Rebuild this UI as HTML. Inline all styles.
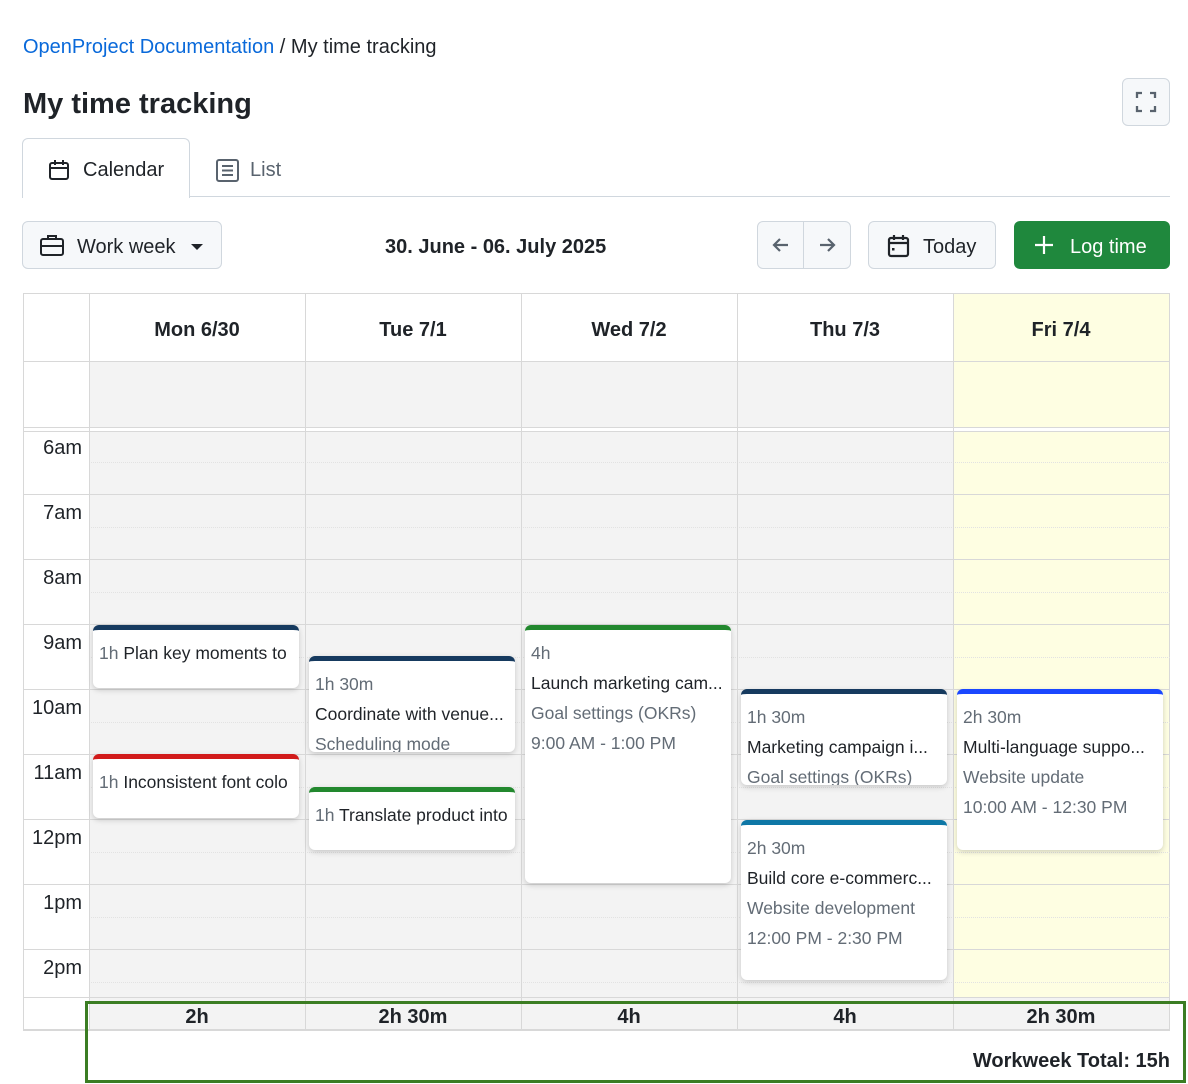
<!DOCTYPE html>
<html><head><meta charset="utf-8"><style>
*{box-sizing:border-box;margin:0;padding:0}
body{width:1188px;height:1084px;background:#fff;font-family:"Liberation Sans",sans-serif;color:#1f2328;position:relative;overflow:hidden}
.a{position:absolute}
.btn{position:absolute;border:1px solid #d0d7de;background:#f6f8fa;border-radius:6px}
.vl{position:absolute;width:1px;background:#d8d8d8}
.hl{position:absolute;height:1px;background:#d8d8d8;left:23px;width:1147px}
.dl{position:absolute;height:0;border-top:1px dotted #e2e2e2;left:89px;width:1081px}
.tl{position:absolute;left:23px;width:59px;text-align:right;font-size:20px}
.dh{position:absolute;top:319px;width:216px;text-align:center;font-weight:bold;font-size:20px}
.ev{position:absolute;background:#fff;border-radius:6px;box-shadow:0 2px 6px rgba(0,0,0,.18);overflow:hidden;border-top:5px solid;font-size:17.5px;padding:12px 6px 0 6px;white-space:nowrap}
.ev div{height:30px;line-height:22px}
.g{color:#636c76}
.ft{position:absolute;top:1006px;width:216px;text-align:center;font-weight:bold;font-size:20px}
</style></head><body>
<div class="a" style="left:23px;top:36px;font-size:20px"><span style="color:#0969da">OpenProject Documentation</span> / My time tracking</div>
<div class="a" style="left:23px;top:88px;font-size:29px;font-weight:bold">My time tracking</div>
<div class="btn" style="left:1122px;top:78px;width:48px;height:48px">
<svg width="46" height="46" viewBox="0 0 46 46"><path d="M14 19v-5h5M27 14h5v5M32 27v5h-5M19 32h-5v-5" stroke="#59636e" stroke-width="2.3" fill="none"/></svg></div>
<div class="a" style="left:22px;top:138px;width:168px;height:60px;border:1px solid #d0d7de;border-bottom:none;border-radius:6px 6px 0 0;background:#fff;z-index:2"></div>
<div class="a" style="left:23px;top:196px;width:1147px;height:1px;background:#d0d7de"></div>
<svg class="a" style="left:47px;top:158px;z-index:3" width="24" height="24" viewBox="0 0 24 24"><rect x="3" y="5" width="18" height="16" rx="2" stroke="#1f2328" stroke-width="2" fill="none"/><path d="M3 10h18M8 2v5M16 2v5" stroke="#1f2328" stroke-width="2"/></svg>
<div class="a" style="left:83px;top:159px;font-size:20px;z-index:3">Calendar</div>
<svg class="a" style="left:215px;top:158px" width="25" height="25" viewBox="0 0 25 25"><rect x="2" y="2" width="21" height="21" rx="2" stroke="#59636e" stroke-width="2" fill="none"/><path d="M7 8h11M7 12.5h11M7 17h11" stroke="#59636e" stroke-width="2"/></svg>
<div class="a" style="left:250px;top:159px;font-size:20px;color:#59636e">List</div>
<div class="btn" style="left:22px;top:221px;width:200px;height:48px"></div>
<svg class="a" style="left:39px;top:233px" width="26" height="24" viewBox="0 0 26 24"><rect x="2" y="6" width="22" height="16" rx="2" stroke="#1f2328" stroke-width="2" fill="none"/><path d="M9 6V3h8v3M2 13h22" stroke="#1f2328" stroke-width="2" fill="none"/></svg>
<div class="a" style="left:77px;top:236px;font-size:20px">Work week</div>
<div class="a" style="left:191px;top:244px;border-left:6px solid transparent;border-right:6px solid transparent;border-top:6px solid #1f2328"></div>
<div class="a" style="left:385px;top:236px;font-size:20px;font-weight:bold">30. June - 06. July 2025</div>
<div class="btn" style="left:757px;top:221px;width:94px;height:48px"></div>
<div class="a" style="left:803px;top:222px;width:1px;height:46px;background:#d0d7de"></div>
<svg class="a" style="left:770px;top:234px" width="22" height="22" viewBox="0 0 22 22"><path d="M18 11H4M10 5l-6 6 6 6" stroke="#59636e" stroke-width="2.2" fill="none"/></svg>
<svg class="a" style="left:816px;top:234px" width="22" height="22" viewBox="0 0 22 22"><path d="M4 11h14M12 5l6 6-6 6" stroke="#59636e" stroke-width="2.2" fill="none"/></svg>
<div class="btn" style="left:868px;top:221px;width:128px;height:48px"></div>
<svg class="a" style="left:886px;top:233px" width="26" height="26" viewBox="0 0 26 26"><rect x="3" y="5" width="19" height="18" rx="2" stroke="#1f2328" stroke-width="2.2" fill="none"/><path d="M3 10h19M8 2v5M17 2v5" stroke="#1f2328" stroke-width="2.2"/><rect x="6" y="15" width="2.5" height="2.5" fill="#1f2328"/></svg>
<div class="a" style="left:923px;top:236px;font-size:20px">Today</div>
<div class="a" style="left:1014px;top:221px;width:156px;height:48px;background:#1f883d;border-radius:6px"></div>
<svg class="a" style="left:1033px;top:234px" width="22" height="22" viewBox="0 0 22 22"><path d="M11 2v18M2 11h18" stroke="#fff" stroke-width="2.2"/></svg>
<div class="a" style="left:1070px;top:236px;font-size:20px;color:#fff">Log time</div>
<div class="a" style="left:23px;top:293px;width:1147px;height:738px;border:1px solid #d8d8d8"></div>
<div class="a" style="left:89px;top:361px;width:864px;height:66px;background:#f3f3f3"></div>
<div class="a" style="left:953px;top:294px;width:216px;height:133px;background:#fefee2"></div>
<div class="a" style="left:89px;top:431px;width:864px;height:566px;background:#f3f3f3"></div>
<div class="a" style="left:953px;top:431px;width:216px;height:566px;background:#fefee2"></div>
<div class="a" style="left:89px;top:997px;width:1080px;height:33px;background:#f3f3f3"></div>
<div class="hl" style="top:361px"></div><div class="hl" style="top:427px"></div><div class="hl" style="top:431px"></div>
<div class="hl" style="top:494px"></div><div class="hl" style="top:559px"></div><div class="hl" style="top:624px"></div><div class="hl" style="top:689px"></div><div class="hl" style="top:754px"></div><div class="hl" style="top:819px"></div><div class="hl" style="top:884px"></div><div class="hl" style="top:949px"></div><div class="hl" style="top:997px"></div>
<div class="a" style="left:23px;top:1029px;width:1147px;height:2px;background:#d8d8d8"></div>
<div class="dl" style="top:462px"></div><div class="dl" style="top:527px"></div><div class="dl" style="top:592px"></div><div class="dl" style="top:657px"></div><div class="dl" style="top:722px"></div><div class="dl" style="top:787px"></div><div class="dl" style="top:852px"></div><div class="dl" style="top:917px"></div><div class="dl" style="top:982px"></div>
<div class="vl" style="left:89px;top:293px;height:738px"></div><div class="vl" style="left:305px;top:293px;height:738px"></div><div class="vl" style="left:521px;top:293px;height:738px"></div><div class="vl" style="left:737px;top:293px;height:738px"></div><div class="vl" style="left:953px;top:293px;height:738px"></div>
<div class="dh" style="left:89px">Mon 6/30</div><div class="dh" style="left:305px">Tue 7/1</div><div class="dh" style="left:521px">Wed 7/2</div><div class="dh" style="left:737px">Thu 7/3</div><div class="dh" style="left:953px">Fri 7/4</div>
<div class="tl" style="top:437px">6am</div><div class="tl" style="top:502px">7am</div><div class="tl" style="top:567px">8am</div><div class="tl" style="top:632px">9am</div><div class="tl" style="top:697px">10am</div><div class="tl" style="top:762px">11am</div><div class="tl" style="top:827px">12pm</div><div class="tl" style="top:892px">1pm</div><div class="tl" style="top:957px">2pm</div>
<div class="ev" style="left:93px;top:625px;width:206px;height:63px;border-color:#163a5f"><div><span class="g">1h</span> Plan key moments to</div></div>
<div class="ev" style="left:93px;top:754px;width:206px;height:64px;border-color:#d11a1a"><div><span class="g">1h</span> Inconsistent font colo</div></div>
<div class="ev" style="left:309px;top:656px;width:206px;height:96px;border-color:#163a5f"><div class="g">1h 30m</div><div>Coordinate with venue...</div><div class="g">Scheduling mode</div></div>
<div class="ev" style="left:309px;top:787px;width:206px;height:63px;border-color:#22882e"><div><span class="g">1h</span> Translate product into</div></div>
<div class="ev" style="left:525px;top:625px;width:206px;height:258px;border-color:#22882e"><div class="g">4h</div><div>Launch marketing cam...</div><div class="g">Goal settings (OKRs)</div><div class="g">9:00 AM - 1:00 PM</div></div>
<div class="ev" style="left:741px;top:689px;width:206px;height:96px;border-color:#163a5f"><div class="g">1h 30m</div><div>Marketing campaign i...</div><div class="g">Goal settings (OKRs)</div></div>
<div class="ev" style="left:741px;top:820px;width:206px;height:160px;border-color:#0e77a6"><div class="g">2h 30m</div><div>Build core e-commerc...</div><div class="g">Website development</div><div class="g">12:00 PM - 2:30 PM</div></div>
<div class="ev" style="left:957px;top:689px;width:206px;height:161px;border-color:#1a47ff"><div class="g">2h 30m</div><div>Multi-language suppo...</div><div class="g">Website update</div><div class="g">10:00 AM - 12:30 PM</div></div>
<div class="ft" style="left:89px">2h</div><div class="ft" style="left:305px">2h 30m</div><div class="ft" style="left:521px">4h</div><div class="ft" style="left:737px">4h</div><div class="ft" style="left:953px">2h 30m</div>
<div class="a" style="left:85px;top:1001px;width:1101px;height:82px;border:3px solid #3b7d23"></div>
<div class="a" style="left:800px;top:1050px;width:370px;text-align:right;font-size:20px;font-weight:bold">Workweek Total: 15h</div>
</body></html>
